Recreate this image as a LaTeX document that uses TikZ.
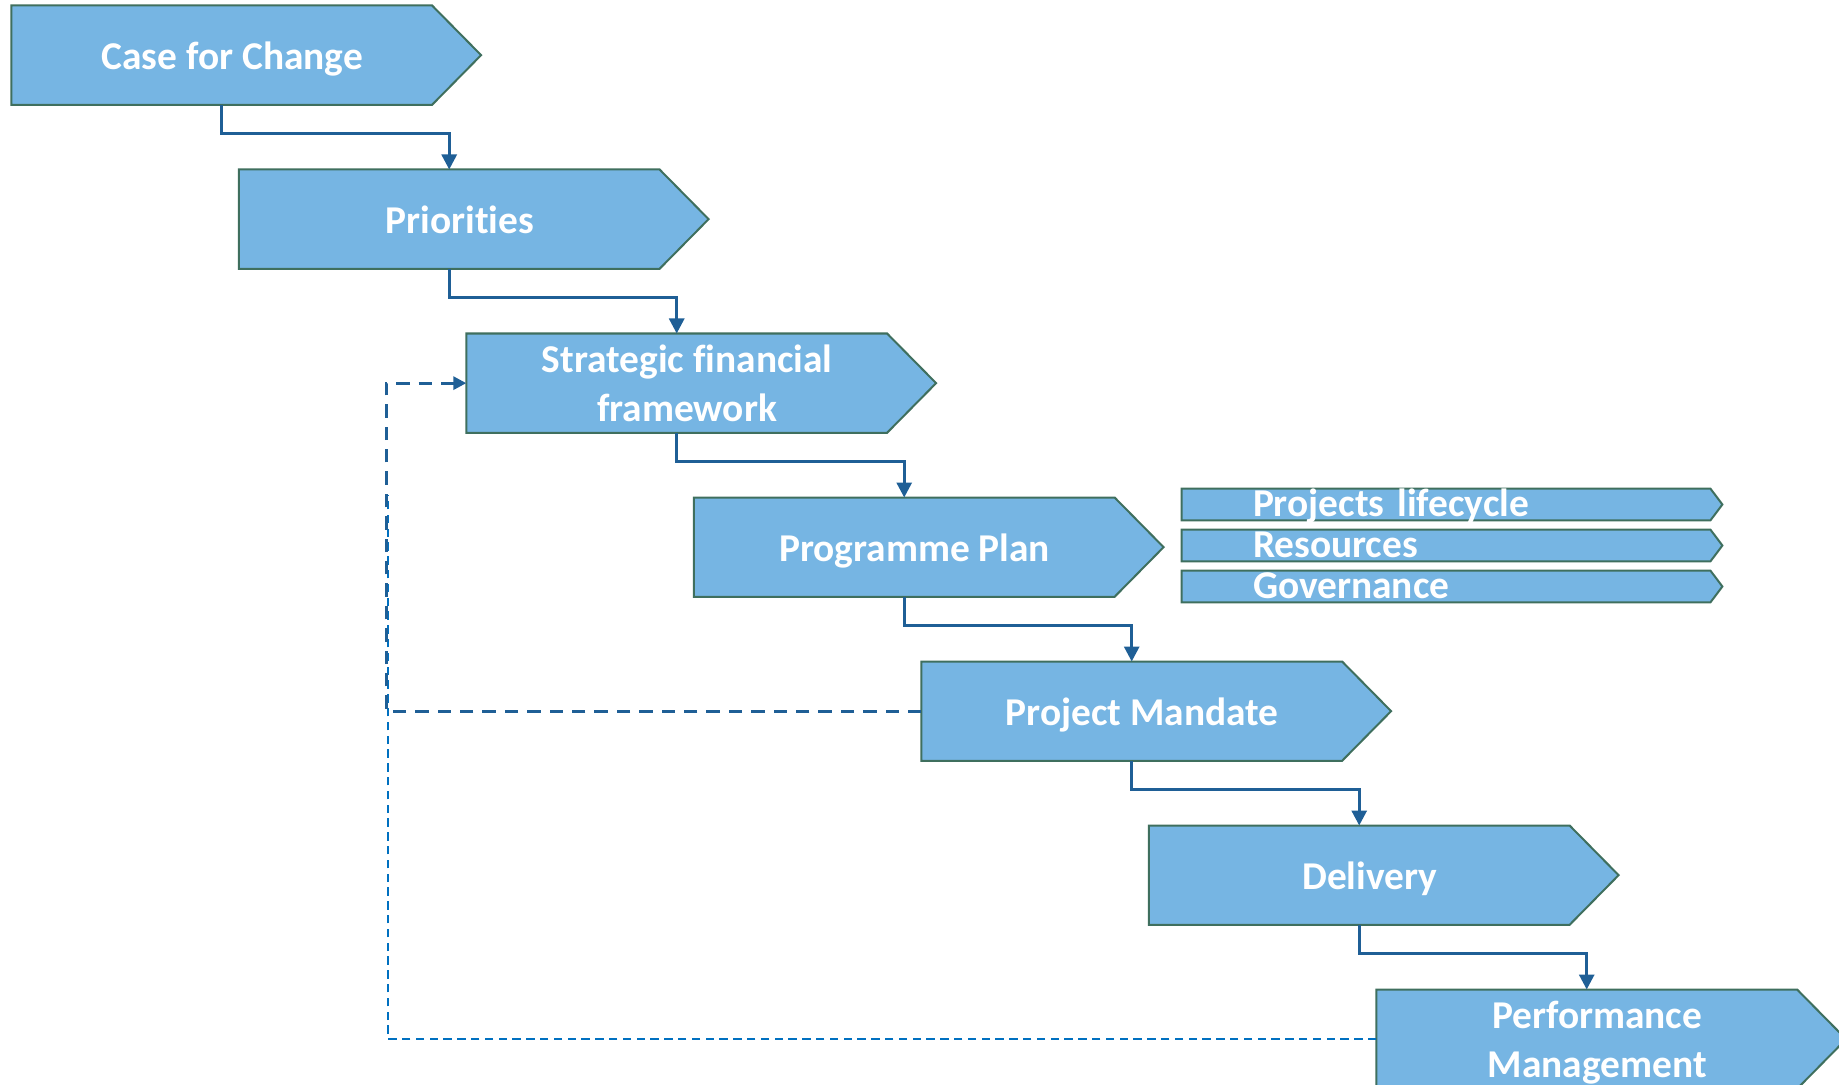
\documentclass[tikz,border=0pt]{standalone}
\usepackage{fontspec}
\setmainfont{Carlito}[Ligatures=NoCommon]
\usetikzlibrary{arrows.meta,backgrounds,calc}
\definecolor{boxfill}{HTML}{76B5E3}
\definecolor{boxline}{HTML}{3F6F5E}
\definecolor{connblue}{HTML}{1F5F96}
\definecolor{dashblue}{HTML}{0070C0}
\begin{document}
\begin{tikzpicture}[x=0.5pt,y=-0.5pt,
  stage/.style={inner sep=0pt, minimum width=220.5pt, minimum height=49.25pt,
    align=center, text=white, font=\bfseries\fontsize{19.7}{24.5}\selectfont,
    text height=14.2pt, text depth=0pt},
  stagetwo/.style={stage, text height=38.7pt},
  bar/.style={inner xsep=35.5pt, inner ysep=0pt, text width=199pt, align=left,
    minimum height=15.5pt, text height=12.45pt, text depth=0pt, text=white,
    font=\bfseries\fontsize{19.7}{24.5}\selectfont},
  shapeline/.style={fill=boxfill, draw=boxline, line width=1pt, line join=miter},
  conn/.style={draw=connblue, line width=1.5pt, -{Triangle[width=7.5pt,length=7.5pt]}},
  dashA/.style={draw=connblue, line width=1.5pt, dash pattern=on 6.7pt off 4.5pt},
  dashB/.style={draw=dashblue, line width=1pt, dash pattern=on 4.2pt off 2.7pt}
]
\useasboundingbox (0,0) rectangle (1839,1085);
\clip (0,0) rectangle (1839,1085);

% stage nodes: node spans left .. left+441 px; rectangle part ends 21 px before
% the node's east side, the tip lies 28 px beyond it
\node[stage]    (case)  at (232.2,55.15)  {Case for Change};
\node[stage]    (prio)  at (459.7,219.15) {Priorities};
\node[stagetwo] (strat) at (687.2,383.15) {Strategic financial\\framework};
\node[stage]    (prog)  at (914.7,547.15) {Programme Plan};
\node[stage]    (mand)  at (1142.2,711.15) {Project Mandate};
\node[stage]    (deliv) at (1369.7,875.15) {Delivery};
\node[stagetwo] (perf)  at (1597.2,1039.15) {Performance\\Management};

% side bars
\node[bar] (life) at (1452,504.5) {Projects lifecycle};
\node[bar] (res)  at (1452,545.5) {Resources};
\node[bar] (gov)  at (1452,586.5) {Governance};

\begin{scope}[on background layer]
  \foreach \n in {case,prio,strat,prog,mand,deliv,perf}
    \path[shapeline] (\n.north west) -- ([xshift=-10.5pt]\n.north east) -- ([xshift=14pt]\n.east)
      -- ([xshift=-10.5pt]\n.south east) -- (\n.south west) -- cycle;
  \foreach \n in {life,res,gov}
    \path[shapeline] (\n.north west) -- ([xshift=-6pt]\n.north east) -- (\n.east)
      -- ([xshift=-6pt]\n.south east) -- (\n.south west) -- cycle;
\end{scope}

% connectors
\draw[conn] ([xshift=-5.25pt]case.south)  -- ++(0,29) -| ([xshift=-5.25pt]prio.north);
\draw[conn] ([xshift=-5.25pt]prio.south)  -- ++(0,29) -| ([xshift=-5.25pt]strat.north);
\draw[conn] ([xshift=-5.25pt]strat.south) -- ++(0,29) -| ([xshift=-5.25pt]prog.north);
\draw[conn] ([xshift=-5.25pt]prog.south)  -- ++(0,29) -| ([xshift=-5.25pt]mand.north);
\draw[conn] ([xshift=-5.25pt]mand.south)  -- ++(0,29) -| ([xshift=-5.25pt]deliv.north);
\draw[conn] ([xshift=-5.25pt]deliv.south) -- ++(0,29) -| ([xshift=-5.25pt]perf.north);

% feedback loops
\coordinate (lx) at (386,0);
\coordinate (ltop) at (388,495);
\draw[dashB] (perf.west) -| (ltop);
\draw[dashA, -{Triangle[width=6.5pt,length=6.5pt]}]
  (mand.west) -- (mand.west -| lx) -- (strat.west -| lx) -- (strat.west);
\end{tikzpicture}
\end{document}
